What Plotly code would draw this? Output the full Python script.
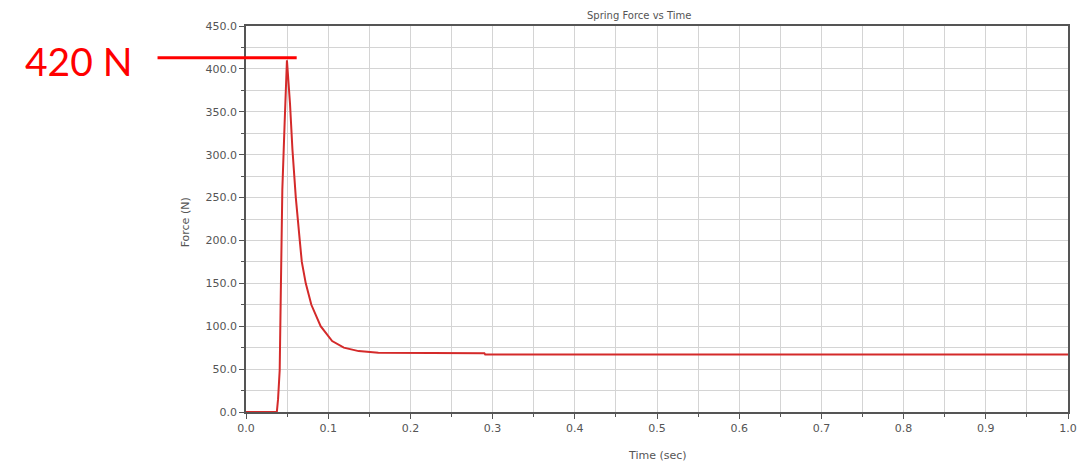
import plotly.graph_objects as go

# Spring force vs time
time_s = [0.0, 0.0375, 0.039, 0.041, 0.0425, 0.0442, 0.047, 0.0498, 0.0535, 0.0565,
          0.0606, 0.0626, 0.0654, 0.0679, 0.0727, 0.0795, 0.0908, 0.1048, 0.119,
          0.137, 0.161, 0.29, 0.291, 1.0]
force_n = [0.0, 0.0, 15, 49, 150, 259, 337, 410, 360, 306,
           250, 225, 200, 175, 150, 125, 100, 82.7, 75,
           71, 69, 68.5, 67, 67]

peak_label = "420 N"
peak_level = 413

# page body has an 8px margin; coordinates below are in figure pixels
OFF = 8
W, H = 1089 - OFF, 463 - OFF
L, T = 246 - OFF, 26 - OFF
R = 16
B = H - (412 - OFF)
pw = W - L - R
ph = H - T - B


def px(x):
    return (x - OFF - L) / pw


def py(y):
    return 1 - (y - OFF - T) / ph


fig = go.Figure()
fig.add_trace(go.Scatter(x=time_s, y=force_n, mode="lines",
                         line=dict(color="#d42a2a", width=2),
                         showlegend=False))

axis_common = dict(
    showline=True, linecolor="#555555", linewidth=1.5, mirror=True,
    ticks="outside", ticklen=5, tickcolor="#555555",
    showgrid=True, gridcolor="#d4d4d4", gridwidth=1,
    zeroline=False, tickformat=".1f",
    tickfont=dict(family="DejaVu Sans", size=11, color="#555555"),
)

fig.update_xaxes(range=[0, 1.0], dtick=0.1,
                 minor=dict(dtick=0.05, showgrid=True, gridcolor="#d4d4d4",
                            ticks="outside", ticklen=3, tickcolor="#555555"),
                 **axis_common)
fig.update_yaxes(range=[0, 450], dtick=50,
                 minor=dict(dtick=25, showgrid=True, gridcolor="#d4d4d4",
                            ticks="outside", ticklen=3, tickcolor="#555555"),
                 **axis_common)

fig.add_shape(type="line", xref="paper", yref="y",
              x0=px(157), x1=px(297), y0=peak_level, y1=peak_level,
              line=dict(color="#ff0000", width=3))

fig.add_annotation(text=peak_label, xref="paper", yref="paper",
                   x=px(78), y=py(61),
                   showarrow=False, xanchor="center", yanchor="middle",
                   font=dict(family="Lato", size=39, color="#ff0000"))

fig.add_annotation(text="Spring Force vs Time", xref="paper", yref="paper",
                   x=px(641), y=py(9), borderpad=0,
                   showarrow=False, xanchor="center", yanchor="top",
                   font=dict(family="DejaVu Sans", size=10, color="#555555"))
fig.add_annotation(text="Force (N)", xref="paper", yref="paper",
                   x=px(185), y=py(222), textangle=-90,
                   showarrow=False, xanchor="center", yanchor="middle",
                   font=dict(family="DejaVu Sans", size=11, color="#555555"))
fig.add_annotation(text="Time (sec)", xref="paper", yref="paper",
                   x=px(660), y=py(455),
                   showarrow=False, xanchor="center", yanchor="middle",
                   font=dict(family="DejaVu Sans", size=11, color="#555555"))

fig.update_layout(width=W, height=H, margin=dict(l=L, r=R, t=T, b=B),
                  paper_bgcolor="white", plot_bgcolor="white")

fig.write_html("out.html")
